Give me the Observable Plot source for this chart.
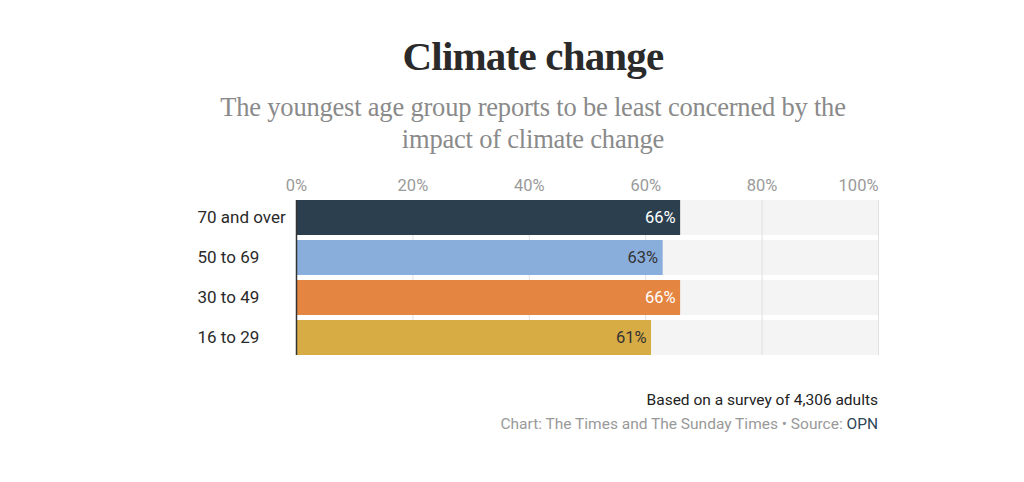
<!DOCTYPE html>
<html><head><meta charset="utf-8">
<script src="https://cdn.jsdelivr.net/npm/d3@7"></script>
<script src="https://cdn.jsdelivr.net/npm/@observablehq/plot@0.6"></script>
<style>
body{margin:0;background:#fff;}
#wrap{position:absolute;left:186px;top:0;width:694px;height:482px;}
h1{font-family:"Liberation Serif",serif;font-weight:bold;font-size:41px;color:#2a2a2a;text-align:center;margin:30px 0 0 0;line-height:52px;letter-spacing:-0.8px;}
h2{font-family:"Liberation Serif",serif;font-weight:normal;font-size:26.5px;color:#8a8a8a;text-align:center;margin:9px 0 0 0;line-height:32px;letter-spacing:-0.2px;}
.foot{font-family:Roboto,sans-serif;text-align:right;}
.f1{font-size:15.5px;color:#222;line-height:24px;font-weight:400;}
.f2{font-size:15.5px;color:#999;line-height:24px;}
.f2 span{color:#2d4659;}
#chart{position:absolute;top:165px;left:0;width:716px;}
#chart svg{max-width:none;}
#footer{position:absolute;top:388px;left:0;width:692px;}
</style></head>
<body>
<div id="wrap">
<h1>Climate change</h1>
<h2>The youngest age group reports to be least concerned by the<br>impact of climate change</h2>
<div id="chart"></div>
<div id="footer" class="foot">
<div class="f1">Based on a survey of 4,306 adults</div>
<div class="f2">Chart: The Times and The Sunday Times • Source: <span>OPN</span></div>
</div>
</div>
<script>
const groups = ["70 and over", "50 to 69", "30 to 49", "16 to 29"];
const values = [66, 63, 66, 61];
const colors = ["#2b3f4f", "#8aaedc", "#e48542", "#d7ac45"];
const labelColors = ["#ffffff", "#333333", "#ffffff", "#333333"];
const ticks = [0, 20, 40, 60, 80, 100];

const data = groups.map((g, i) => ({group: g, value: values[i], color: colors[i], lc: labelColors[i]}));

const chart = Plot.plot({
  width: 716,
  height: 200,
  marginTop: 35,
  marginBottom: 10,
  marginLeft: 110,
  marginRight: 24,
  style: {fontFamily: "Roboto, sans-serif", background: "transparent", overflow: "visible", maxWidth: "none"},
  x: {domain: [0, 100]},
  y: {domain: groups, paddingInner: 0.125, paddingOuter: 0},
  marks: [
    Plot.barX(data, {y: "group", x1: 0, x2: 100, fill: "#f4f4f4"}),
    Plot.ruleX(ticks.slice(1), {stroke: "#e0e0e0", strokeWidth: 1}),
    Plot.barX(data, {y: "group", x: "value", fill: "color"}),
    Plot.ruleX([0], {stroke: "#333", strokeWidth: 1.5}),
    Plot.text(data, {y: "group", x: "value", text: d => d.value + "%", textAnchor: "end", dx: -5, fill: "lc", fontSize: 16.5}),
    Plot.axisX(ticks.slice(0, -1), {anchor: "top", tickSize: 0, tickPadding: 10, tickFormat: d => d + "%", fontSize: 16.5, color: "#9a9a9a", label: null}),
    Plot.axisX(ticks.slice(-1), {anchor: "top", tickSize: 0, tickPadding: 10, tickFormat: d => d + "%", fontSize: 16.5, color: "#9a9a9a", textAnchor: "end", label: null}),
    Plot.axisY({tickSize: 0, tickPadding: 99, textAnchor: "start", fontSize: 17, color: "#2a2a2a", label: null})
  ]
});
document.getElementById("chart").appendChild(chart);
</script>
</body></html>
